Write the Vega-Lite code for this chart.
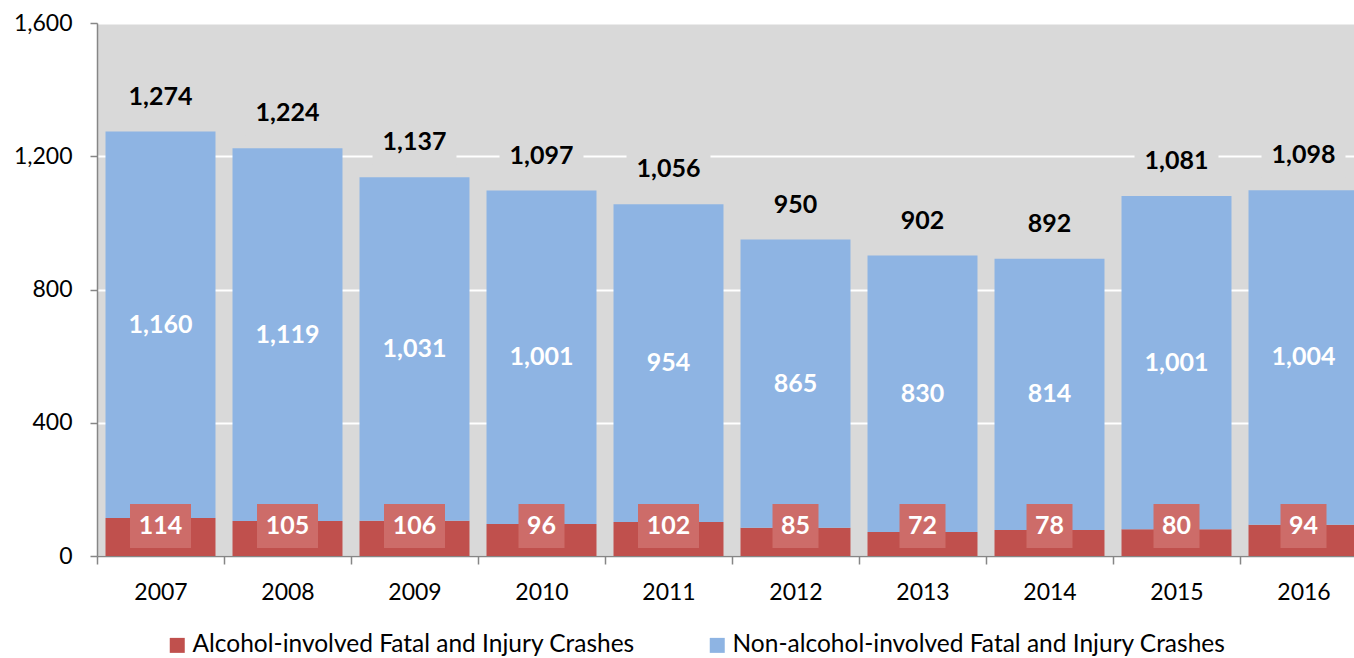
{
  "$schema": "https://vega.github.io/schema/vega-lite/v6.json",
  "width": 1257,
  "height": 533,
  "autosize": {"type": "none"},
  "padding": {"left": 97, "top": 23, "right": 0, "bottom": 102},
  "background": "white",
  "config": {
    "view": {"fill": "#d9d9d9", "stroke": null},
    "font": "Lato",
    "text": {"font": "Lato"}
  },
  "data": {
    "values": [
      {"year": "2007", "alcohol": 114, "non": 1160, "total": 1274},
      {"year": "2008", "alcohol": 105, "non": 1119, "total": 1224},
      {"year": "2009", "alcohol": 106, "non": 1031, "total": 1137},
      {"year": "2010", "alcohol": 96, "non": 1001, "total": 1097},
      {"year": "2011", "alcohol": 102, "non": 954, "total": 1056},
      {"year": "2012", "alcohol": 85, "non": 865, "total": 950},
      {"year": "2013", "alcohol": 72, "non": 830, "total": 902},
      {"year": "2014", "alcohol": 78, "non": 814, "total": 892},
      {"year": "2015", "alcohol": 80, "non": 1001, "total": 1081},
      {"year": "2016", "alcohol": 94, "non": 1004, "total": 1098}
    ]
  },
  "encoding": {
    "x": {
      "field": "year",
      "type": "nominal",
      "scale": {"range": [0, 1270], "paddingInner": 0, "paddingOuter": 0},
      "axis": {
        "title": null,
        "labelAngle": 0,
        "labelFontSize": 23,
        "labelColor": "#000000",
        "labelFont": "Lato",
        "domainColor": "#868686",
        "domainWidth": 1.5,
        "tickColor": "#868686",
        "tickWidth": 1.5,
        "tickSize": 8,
        "tickBand": "extent",
        "labelPadding": 17,
        "grid": false
      }
    }
  },
  "layer": [
    {
      "transform": [{"fold": ["alcohol", "non"], "as": ["series", "value"]}],
      "mark": {"type": "bar", "width": {"band": 0.866}},
      "encoding": {
        "y": {
          "field": "value",
          "type": "quantitative",
          "stack": "zero",
          "title": null,
          "scale": {"domain": [0, 1600], "nice": false},
          "axis": {
            "title": null,
            "values": [0, 400, 800, 1200, 1600],
            "format": ",.0f",
            "labelFontSize": 23,
            "labelColor": "#000000",
            "labelFont": "Lato",
            "domainColor": "#868686",
            "domainWidth": 1.5,
            "tickColor": "#868686",
            "tickWidth": 1.5,
            "tickSize": 7,
            "labelPadding": 18,
            "grid": true,
            "gridColor": "#ffffff",
            "gridWidth": 2
          }
        },
        "order": {"field": "series", "sort": "ascending"},
        "color": {
          "field": "series",
          "type": "nominal",
          "scale": {"domain": ["alcohol", "non"], "range": ["#c0504d", "#8eb4e3"]},
          "legend": {
            "orient": "none",
            "legendX": 68,
            "legendY": 610,
            "direction": "horizontal",
            "title": null,
            "labelFontSize": 24.5,
            "labelFont": "Lato",
            "labelColor": "#000000",
            "symbolType": "square",
            "symbolSize": 225,
            "symbolStrokeWidth": 0,
            "labelOffset": 3,
            "columnPadding": 70,
            "labelLimit": 800,
            "labelExpr": "datum.value == 'alcohol' ? 'Alcohol-involved Fatal and Injury Crashes' : 'Non-alcohol-involved Fatal and Injury Crashes'"
          }
        }
      }
    },
    {
      "mark": {"type": "bar", "color": "#d9d9d9", "yOffset": -57, "y2Offset": -13},
      "encoding": {
        "y": {"field": "total", "type": "quantitative", "title": null},
        "y2": {"field": "total"},
        "size": {"condition": {"test": "datum.total >= 1000", "value": 84}, "value": 62}
      }
    },
    {
      "mark": {"type": "text", "dy": -35, "fontWeight": "bold", "fontSize": 25, "baseline": "middle", "color": "#000000"},
      "encoding": {
        "y": {"field": "total", "type": "quantitative", "title": null},
        "text": {"field": "total", "type": "quantitative", "format": ","}
      }
    },
    {
      "mark": {"type": "bar", "color": "#cd6c69", "yOffset": -52, "y2Offset": -8},
      "encoding": {
        "y": {"datum": 0, "type": "quantitative"},
        "y2": {"datum": 0},
        "size": {"condition": {"test": "datum.alcohol >= 100", "value": 61}, "value": 46}
      }
    },
    {
      "mark": {"type": "text", "dy": -30, "fontWeight": "bold", "fontSize": 25, "baseline": "middle", "color": "#ffffff"},
      "encoding": {
        "y": {"datum": 0, "type": "quantitative"},
        "text": {"field": "alcohol", "type": "quantitative", "format": ","}
      }
    },
    {
      "transform": [{"fold": ["alcohol", "total"], "as": ["k", "v"]}],
      "mark": {"type": "text", "fontWeight": "bold", "fontSize": 25, "baseline": "middle", "color": "#ffffff"},
      "encoding": {
        "y": {"aggregate": "mean", "field": "v", "type": "quantitative", "title": null},
        "text": {"aggregate": "max", "field": "non", "type": "quantitative", "format": ","}
      }
    }
  ]
}
